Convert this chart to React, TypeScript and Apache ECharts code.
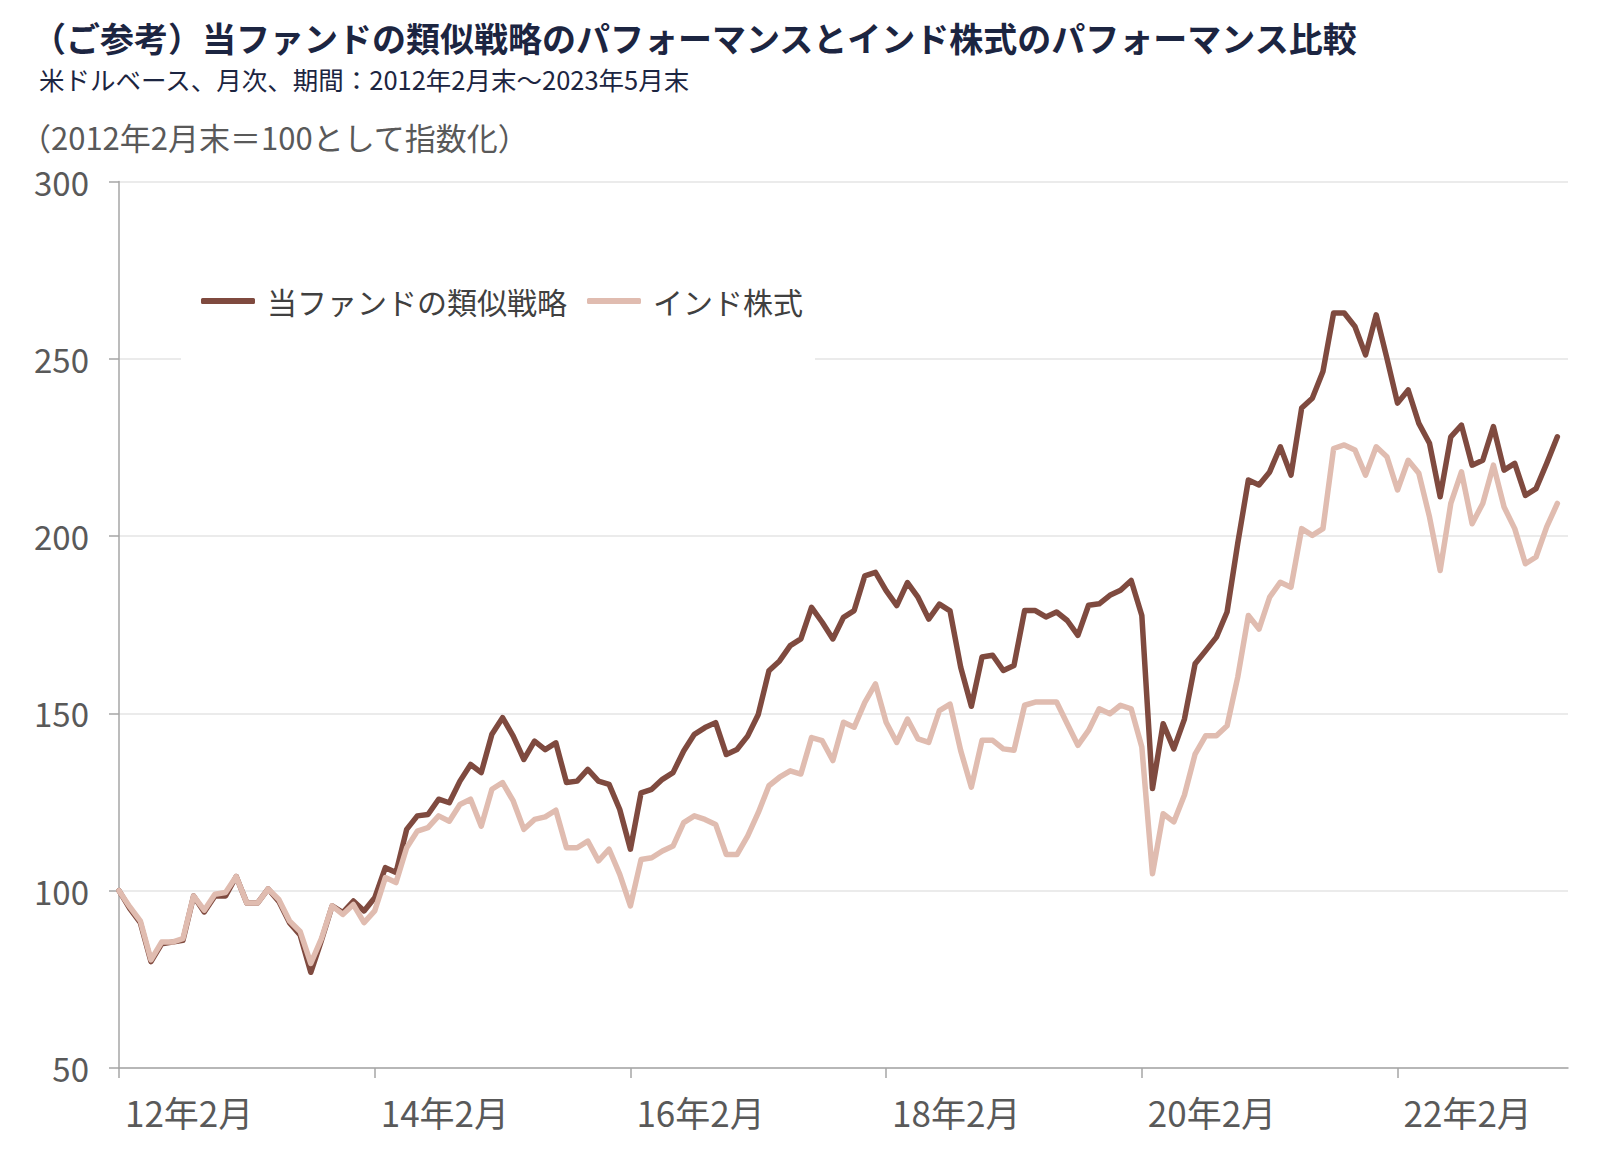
import React, { useEffect, useRef } from "react";
import * as echarts from "echarts";

const FONT = "'Noto Sans CJK JP', 'Noto Sans', sans-serif";

const titleText = "（ご参考）当ファンドの類似戦略のパフォーマンスとインド株式のパフォーマンス比較";
const subtitleText = "米ドルベース、月次、期間：2012年2月末～2023年5月末";
const yAxisNameText = "（2012年2月末＝100として指数化）";

const seriesNames = ["当ファンドの類似戦略", "インド株式"];

// monthly values, 2012年2月末 … 2023年5月末 (one line per calendar year)
const fundStrategy = [
  100, 95, 91, 80, 85, 85.5, 86, 98.5, 94, 98.5, 98.5,
  104, 96.5, 96.5, 100.5, 97, 91, 87.5, 77, 86, 95.7, 93.8, 97.1,
  94.3, 98, 106.5, 105.1, 117.3, 121.1, 121.5, 125.8, 124.8, 130.9, 135.6, 133.3,
  144.1, 148.8, 143.6, 137, 142.2, 139.8, 141.7, 130.5, 130.9, 134.2, 130.9, 130,
  122.9, 111.7, 127.6, 128.6, 131.4, 133.3, 139.4, 144.1, 146, 147.4, 138.4, 139.8,
  143.6, 149.7, 162, 164.8, 169.1, 171, 179.9, 175.7, 171, 177.1, 179, 188.8,
  189.8, 184.6, 180.4, 186.9, 182.7, 176.6, 180.8, 178.9, 163, 152, 165.9, 166.4,
  162.1, 163.5, 179, 179, 177.2, 178.6, 176.2, 172, 180.5, 180.9, 183.3, 184.7,
  187.5, 177.6, 128.8, 147.1, 140, 148.4, 164, 167.7, 171.5, 178.6, 197.9, 215.8,
  214.4, 218.1, 225.2, 217.2, 236.1, 238.9, 246.4, 262.9, 262.9, 259.1, 251.1, 262.4,
  250.2, 237.5, 241.2, 231.8, 226.2, 211.1, 228, 231.3, 220, 221.4, 230.9, 218.6,
  220.5, 211.5, 213.4, 220.5, 228,
];

const indiaEquity = [
  100, 95.5, 91.5, 80.5, 85.5, 85.5, 86.5, 98.5, 94.5, 99, 99.5,
  104, 96.5, 96.5, 100.5, 97.5, 91.5, 88.5, 79.5, 86.5, 95.7, 93.3, 96.1,
  91, 94.3, 103.7, 102.3, 112.1, 116.8, 117.8, 121.1, 119.6, 124.3, 125.8, 118.2,
  128.6, 130.5, 125.3, 117.3, 120.1, 120.8, 122.7, 112.1, 112.1, 114, 108.4, 111.7,
  104.6, 95.7, 108.8, 109.3, 111.2, 112.6, 119.2, 121.1, 120.1, 118.7, 110.2, 110.2,
  115.4, 122, 129.6, 132, 133.8, 132.9, 143.2, 142.3, 136.7, 147.5, 146.1, 153.1,
  158.3, 147.5, 141.8, 148.4, 142.8, 141.8, 150.8, 152.6, 139.5, 129.2, 142.4, 142.4,
  140, 139.6, 152.3, 153.2, 153.2, 153.2, 147.1, 141, 145.2, 151.3, 149.9, 152.3,
  151.3, 140.5, 104.8, 121.7, 119.4, 127, 138.5, 143.7, 143.7, 146.5, 160.2, 177.6,
  173.8, 182.8, 187, 185.6, 202.1, 200.2, 202.1, 224.7, 225.7, 224.3, 217.2, 225.2,
  222.4, 213, 221.4, 217.7, 205.4, 190.3, 209.2, 218.1, 203.5, 209.2, 220, 208.2,
  202.1, 192.2, 194.1, 202.6, 209.2,
];

// category labels: one per month, "YY年M月"
const startYear = 2012;
const startMonth = 2;
const categories: string[] = [];
for (let i = 0; i < fundStrategy.length; i++) {
  const total = startMonth - 1 + i;
  const y = startYear + Math.floor(total / 12);
  const m = (total % 12) + 1;
  categories.push(`${String(y).slice(2)}年${m}月`);
}
categories.push(""); // trailing space on the right of the plot

const labelEvery = 24;
const showAt = (index: number) => index % labelEvery === 0 && index < fundStrategy.length;

const colors = ["#7f4a3f", "#e0bcb0"];

export default function App() {
  const ref = useRef<HTMLDivElement>(null);
  useEffect(() => {
    if (!ref.current) return;
    const chart = echarts.init(ref.current, undefined, { renderer: "svg" });
    const option: any = {
      animation: false,
      backgroundColor: "#ffffff",
      textStyle: { fontFamily: FONT },
      grid: { left: 119, right: 32, top: 181.5, bottom: 87, containLabel: false },
      xAxis: {
        type: "category",
        data: categories,
        boundaryGap: false,
        axisLine: { show: true, lineStyle: { color: "#a6a6a6", width: 1.5 } },
        axisTick: {
          show: true,
          interval: (index: number) => showAt(index),
          length: 10,
          lineStyle: { color: "#a6a6a6", width: 1.5 },
        },
        axisLabel: {
          interval: (index: number) => showAt(index),
          align: "left",
          margin: 26,
          padding: [0, 0, 0, 6],
          fontSize: 35,
          color: "#595959",
          fontFamily: FONT,
        },
        splitLine: { show: false },
      },
      yAxis: {
        type: "value",
        min: 50,
        max: 300,
        interval: 50,
        axisLine: { show: true, lineStyle: { color: "#a6a6a6", width: 1.5 } },
        axisTick: { show: true, length: 10, lineStyle: { color: "#a6a6a6", width: 1.5 } },
        axisLabel: { margin: 30, fontSize: 33, color: "#595959", fontFamily: FONT },
        splitLine: { show: true, lineStyle: { color: "#e4e4e4", width: 1.5 } },
      },
      legend: {
        data: seriesNames,
        icon: "roundRect",
        itemWidth: 54,
        itemHeight: 6,
        itemGap: 20,
        left: 181,
        top: 266,
        padding: [20, 12, 50, 20],
        backgroundColor: "#ffffff",
        textStyle: { fontSize: 30, color: "#404040", fontFamily: FONT, padding: [0, 0, 0, 7] },
      },
      graphic: [
        {
          type: "text",
          x: 32,
          y: 37,
          style: { text: titleText, fontSize: 34, fontWeight: "bold", fill: "#1c2541", fontFamily: FONT, verticalAlign: "middle" },
        },
        {
          type: "text",
          x: 39,
          y: 78,
          style: { text: subtitleText, fontSize: 25.5, fill: "#1c2541", fontFamily: FONT, verticalAlign: "middle" },
        },
        {
          type: "text",
          x: 20,
          y: 136,
          style: { text: yAxisNameText, fontSize: 31, fill: "#595959", fontFamily: FONT, verticalAlign: "middle" },
        },
      ],
      series: [
        {
          name: seriesNames[0],
          type: "line",
          data: fundStrategy,
          showSymbol: false,
          symbol: "none",
          color: colors[0],
          lineStyle: { color: colors[0], width: 5.5, cap: "round", join: "round" },
        },
        {
          name: seriesNames[1],
          type: "line",
          data: indiaEquity,
          showSymbol: false,
          symbol: "none",
          color: colors[1],
          lineStyle: { color: colors[1], width: 5.5, cap: "round", join: "round" },
        },
      ],
    };
    chart.setOption(option);
    return () => chart.dispose();
  }, []);
  return (
    <div
      ref={ref}
      style={{ position: "absolute", left: 0, top: 0, width: 1600, height: 1155, background: "#ffffff" }}
    />
  );
}
